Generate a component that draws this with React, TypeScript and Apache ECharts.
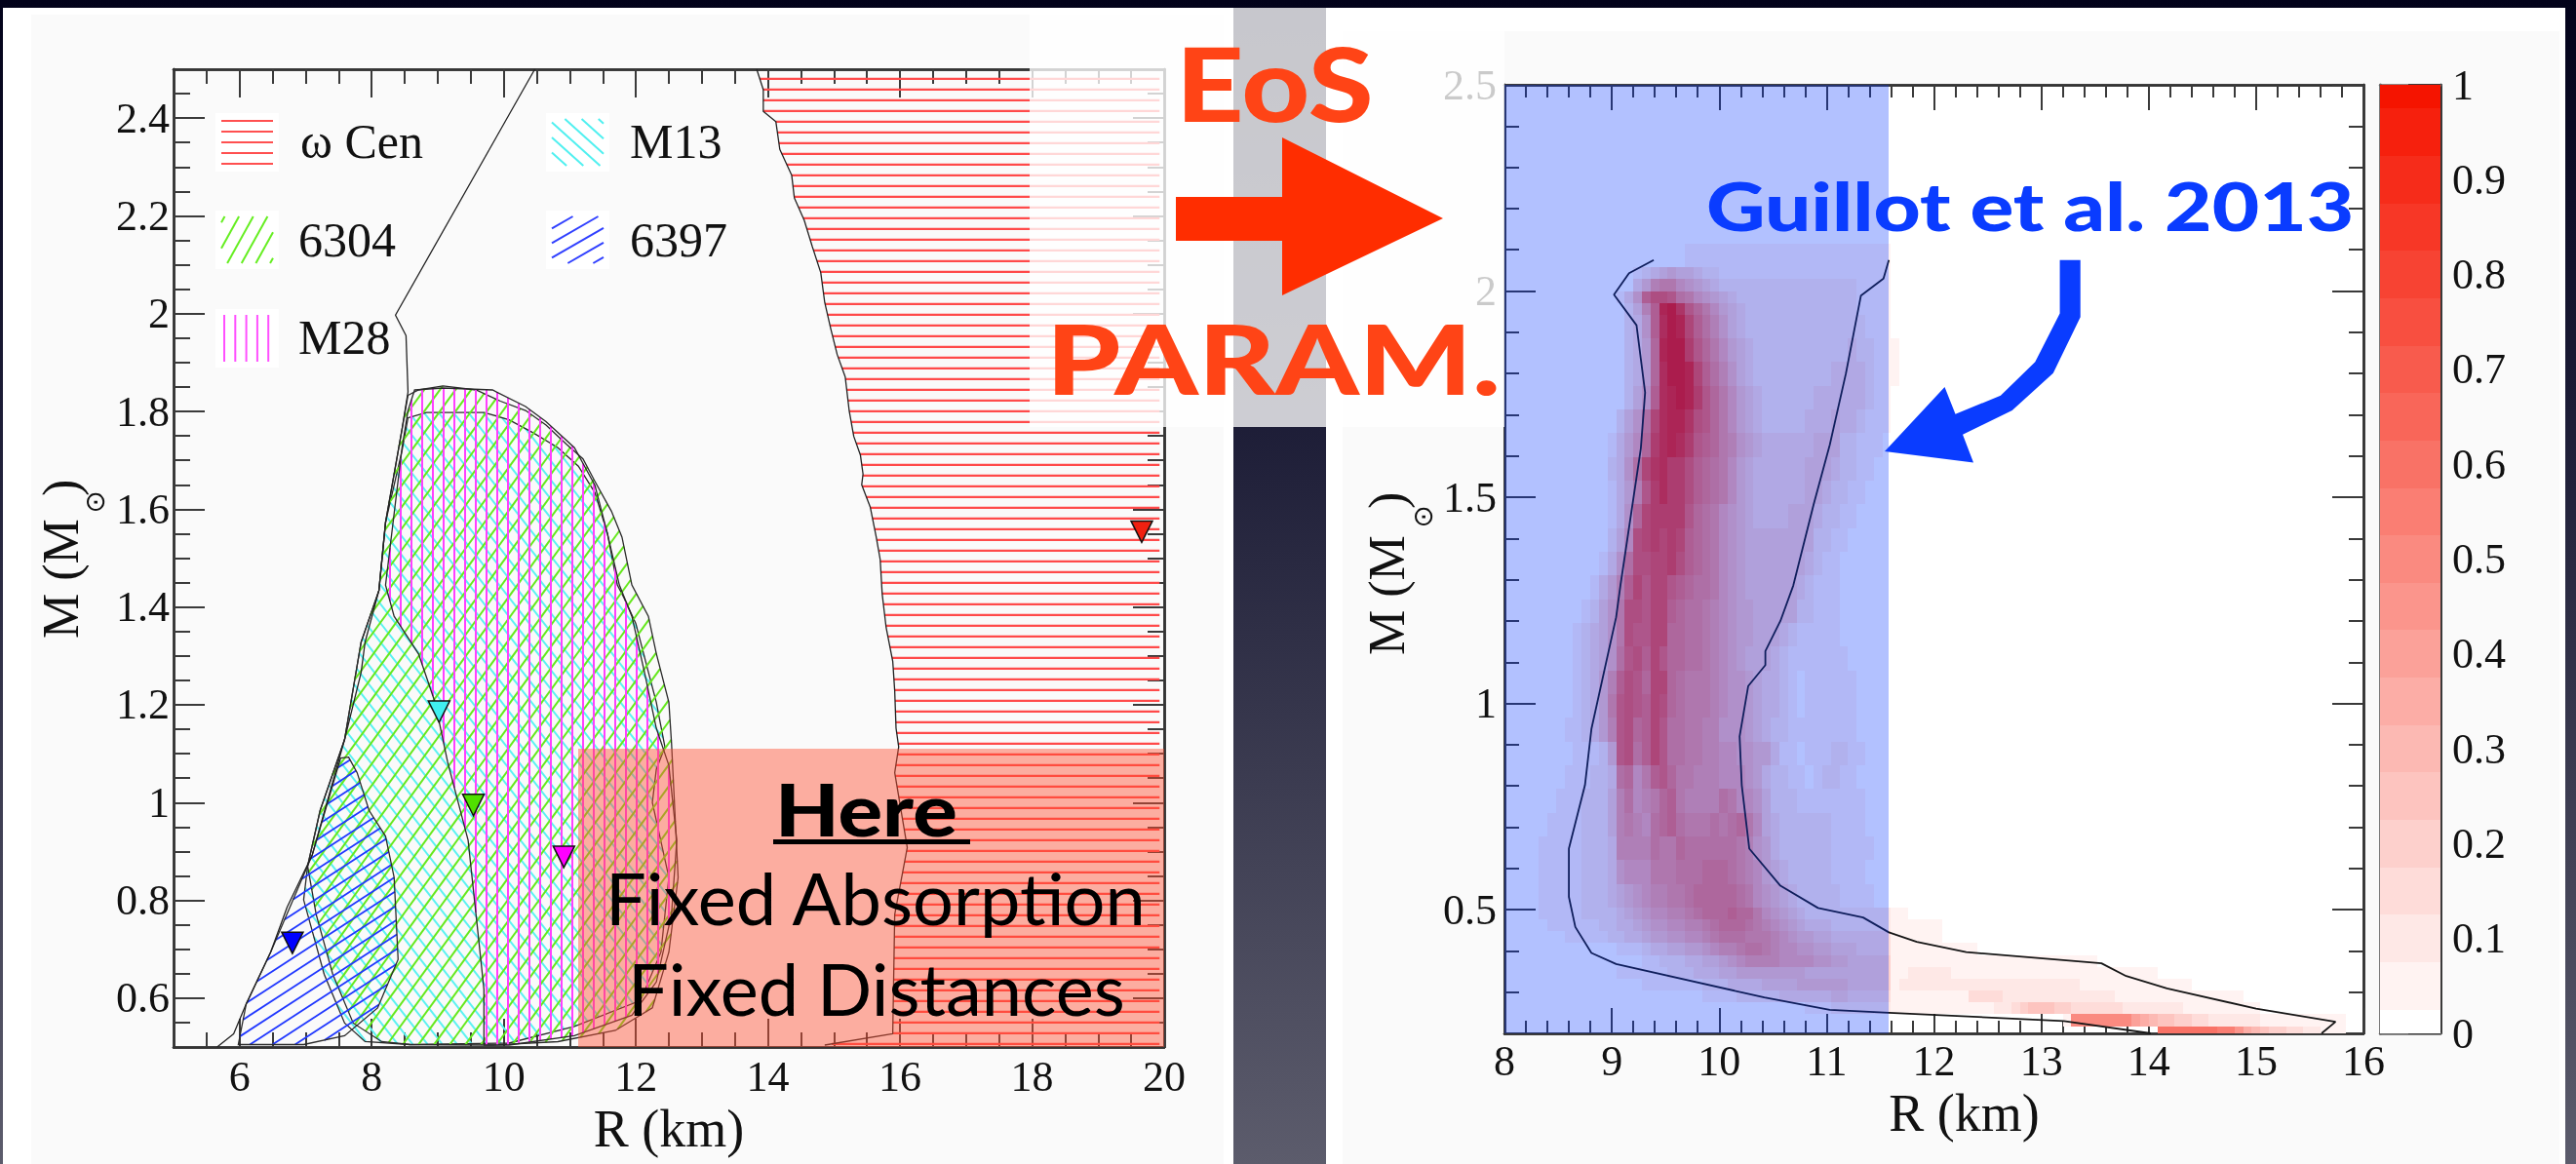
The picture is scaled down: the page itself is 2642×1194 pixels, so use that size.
import React, { useEffect, useRef } from "react";
import * as echarts from "echarts";

const SERIF = "'Liberation Serif'";
const SLIDE = "Lato";

// left plot ---------------------------------------------------------------
const leftXMajor = [6, 8, 10, 12, 14, 16, 18, 20];
const leftXMinor = [5.5, 6.5, 7, 7.5, 8.5, 9, 9.5, 10.5, 11, 11.5, 12.5, 13, 13.5, 14.5, 15, 15.5, 16.5, 17, 17.5, 18.5, 19, 19.5];
const leftYMajor = [0.6, 0.8, 1, 1.2, 1.4, 1.6, 1.8, 2, 2.2, 2.4];
const leftYMinor = [0.55, 0.65, 0.7, 0.75, 0.85, 0.9, 0.95, 1.05, 1.1, 1.15, 1.25, 1.3, 1.35, 1.45, 1.5, 1.55, 1.65, 1.7, 1.75, 1.85, 1.9, 1.95, 2.05, 2.1, 2.15, 2.25, 2.3, 2.35, 2.45];

const omegaEdge = [[13.83, 2.5], [13.93, 2.458], [13.93, 2.414], [14.12, 2.393], [14.18, 2.336], [14.36, 2.283], [14.4, 2.237], [14.55, 2.191], [14.67, 2.138], [14.8, 2.084], [14.86, 2.023], [14.95, 1.97], [15.05, 1.916], [15.17, 1.871], [15.23, 1.802], [15.3, 1.749], [15.4, 1.711], [15.44, 1.672], [15.42, 1.65], [15.55, 1.604], [15.64, 1.543], [15.7, 1.497], [15.73, 1.427], [15.79, 1.358], [15.89, 1.289], [15.92, 1.228], [15.94, 1.152], [15.98, 1.114], [15.92, 1.061], [16.11, 0.908], [15.92, 0.771], [15.89, 0.527], [14.86, 0.504]];
const omegaCorners = [[19.93, 0.504], [19.93, 2.5]];
const region6304 = [[8.55, 1.833], [8.71, 1.844], [9.08, 1.852], [9.58, 1.844], [9.95, 1.821], [10.33, 1.802], [10.64, 1.772], [10.95, 1.733], [11.2, 1.703], [11.38, 1.657], [11.63, 1.596], [11.79, 1.543], [11.94, 1.445], [12.19, 1.381], [12.31, 1.305], [12.5, 1.205], [12.54, 1.122], [12.59, 0.984], [12.64, 0.847], [12.5, 0.694], [12.25, 0.58], [11.69, 0.534], [10.82, 0.511], [9.83, 0.504], [8.58, 0.505], [8.15, 0.511], [7.72, 0.549], [7.41, 0.649], [7.16, 0.771], [7.03, 0.87], [7.22, 0.984], [7.59, 1.129], [7.84, 1.328], [8.11, 1.434], [8.21, 1.573], [8.46, 1.764]];
const regionM13 = [[8.55, 1.787], [8.83, 1.798], [9.7, 1.798], [10.08, 1.783], [10.45, 1.756], [10.82, 1.726], [11.13, 1.688], [11.38, 1.634], [11.57, 1.55], [11.72, 1.445], [11.82, 1.419], [12, 1.366], [12.19, 1.267], [12.31, 1.205], [12.44, 1.114], [12.31, 1.068], [12.25, 1], [12.5, 0.847], [12.38, 0.694], [12.07, 0.595], [11.07, 0.542], [10.08, 0.508], [8.58, 0.505], [7.9, 0.511], [7.59, 0.549], [7.28, 0.649], [6.97, 0.801], [7.03, 0.87], [7.22, 0.984], [7.59, 1.129], [7.84, 1.328], [8.11, 1.434], [8.21, 1.573], [8.46, 1.72]];
const regionM28 = [[8.65, 1.844], [9.08, 1.848], [9.83, 1.844], [10.33, 1.81], [10.64, 1.779], [11.07, 1.726], [11.38, 1.649], [11.57, 1.55], [11.75, 1.445], [11.94, 1.381], [12.13, 1.267], [12.31, 1.152], [12.5, 1.076], [12.62, 0.923], [12.54, 0.771], [12.31, 0.633], [11.94, 0.565], [11.07, 0.523], [10.08, 0.504], [9.7, 0.504], [9.7, 0.618], [9.58, 0.771], [9.46, 0.923], [9.15, 1.083], [8.96, 1.205], [8.71, 1.304], [8.34, 1.381], [8.21, 1.445], [8.46, 1.726], [8.55, 1.802]];
const region6397 = [[7.65, 1.093], [7.78, 1.061], [7.96, 0.984], [8.21, 0.931], [8.34, 0.847], [8.4, 0.679], [8.09, 0.58], [7.59, 0.523], [6.97, 0.505], [5.98, 0.505], [6.1, 0.588], [6.47, 0.694], [7.1, 0.893], [7.53, 1.091]];
const outerContour = [[10.47, 2.5], [8.36, 1.997], [8.52, 1.955], [8.55, 1.84], [8.46, 1.764], [8.21, 1.573], [8.11, 1.434], [7.9, 1.328], [7.84, 1.266], [7.59, 1.129], [7.1, 0.893], [6.72, 0.786], [6.47, 0.694], [6.1, 0.588], [5.91, 0.527], [5.66, 0.5]];
const triangleNames = ["ω Cen", "M13", "6304", "M28", "6397"];
const trianglePoints = [[19.66, 1.554], [9.02, 1.186], [9.54, 0.995], [10.91, 0.889], [6.8, 0.713]];
const triangleColors = ["#f02010", "#40f0f0", "#50e000", "#ff00ff", "#0000ff"];

// right plot --------------------------------------------------------------
const rightXMajor = [8, 9, 10, 11, 12, 13, 14, 15, 16];
const rightXMinor = [8.2, 8.4, 8.6, 8.8, 9.2, 9.4, 9.6, 9.8, 10.2, 10.4, 10.6, 10.8, 11.2, 11.4, 11.6, 11.8, 12.2, 12.4, 12.6, 12.8, 13.2, 13.4, 13.6, 13.8, 14.2, 14.4, 14.6, 14.8, 15.2, 15.4, 15.6, 15.8];
const rightYMajor = [0.5, 1, 1.5, 2, 2.5];
const rightYMinor = [0.3, 0.4, 0.6, 0.7, 0.8, 0.9, 1.1, 1.2, 1.3, 1.4, 1.6, 1.7, 1.8, 1.9, 2.1, 2.2, 2.3, 2.4];
const colorMajor = [0, 0.1, 0.2, 0.3, 0.4, 0.5, 0.6, 0.7, 0.8, 0.9, 1];
const colorMinor = [0.02, 0.04, 0.06, 0.08, 0.12, 0.14, 0.16, 0.18, 0.22, 0.24, 0.26, 0.28, 0.32, 0.34, 0.36, 0.38, 0.42, 0.44, 0.46, 0.48, 0.52, 0.54, 0.56, 0.58, 0.62, 0.64, 0.66, 0.68, 0.72, 0.74, 0.76, 0.78, 0.82, 0.84, 0.86, 0.88, 0.92, 0.94, 0.96, 0.98];
const contourLower = [[9.39, 2.075], [9.16, 2.043], [9.02, 1.991], [9.23, 1.917], [9.31, 1.754], [9.27, 1.618], [9.08, 1.286], [9.04, 1.209], [8.81, 0.938], [8.75, 0.802], [8.6, 0.648], [8.6, 0.531], [8.66, 0.458], [8.81, 0.395], [9.04, 0.368], [10.42, 0.287], [11.03, 0.257], [11.58, 0.25], [13.21, 0.23], [14.02, 0.2]];
const contourUpper = [[15.61, 0.2], [15.74, 0.228], [15, 0.26], [14.17, 0.309], [13.79, 0.339], [13.56, 0.37], [12.3, 0.397], [11.84, 0.422], [11.58, 0.445], [11.34, 0.481], [10.92, 0.504], [10.57, 0.558], [10.28, 0.648], [10.21, 0.802], [10.19, 0.92], [10.27, 1.042], [10.43, 1.093], [10.43, 1.127], [10.57, 1.2], [10.69, 1.286], [10.88, 1.483], [11.03, 1.627], [11.18, 1.8], [11.26, 1.908], [11.32, 1.989], [11.53, 2.03], [11.58, 2.075]];

// posterior map, one character per 0.08 km from R = 8; 0..k = level/20
const heatRowTops = [2.115, 2.0575, 2.029, 2.0, 1.971, 1.9425, 1.885, 1.8275, 1.77, 1.7125, 1.655, 1.5975, 1.54, 1.4825, 1.425, 1.3675, 1.31, 1.2525, 1.195, 1.1375, 1.08, 1.0225, 0.965, 0.9075, 0.85, 0.7925, 0.735, 0.6775, 0.62, 0.5625, 0.505, 0.47625, 0.4475, 0.41875, 0.39, 0.36125, 0.3325, 0.30375, 0.275, 0.24625, 0.2175, 0.2];
const heatRows = [
  "0000000000 0000000000 0111111111 1111111111 1111100000",
  "0000000000 0000012345 4432211111 1111111111 1111100000",
  "0000000000 0000035899 7654322222 2222222222 2111100000",
  "0000000000 000136ceed a976543222 2222222222 2111100000",
  "0000000000 0000248cjk hdb9754322 2222222222 2111100000",
  "0000000000 0000236cik jfca864322 2222222222 2211100000",
  "0000000000 0000235bjk kgdb975432 2222222222 3221110000",
  "0000000000 0000235bik kjfca86432 2222222233 3321110000",
  "0000000000 0000246cij kjgdb97543 2222223333 3321100000",
  "0000000000 000246afij jhedb97543 2222233343 3211100000",
  "0000000000 00135 7bgij igdcb98654 3333334442 2111000000",
  "0000000000 00236afhig gecba97543 3333344432 2110000000",
  "0000000000 001358dgig gecba97543 3333344322 1100000000",
  "0000000000 00136bfggg gdba976543 3334443221 1000000000",
  "0000000000 00247efgfg fcba976544 4444442211 0000000000",
  "0000000000 0136aeeffg ecba976544 4444432110 0000000000",
  "0000000000 1358cfdffd cbaa976544 4444321110 0000000000",
  "0000000001 2469eedffc baa9876554 4444221110 0000000000",
  "0000000012 3469eddffb baa9876554 4432111110 0000000000",
  "0000000012 346adecfdb baa9876544 4321111111 0000000000",
  "0000000012 358cedbffb a999876654 3321011111 1000000000",
  "0000000012 359dedcfeb a999876654 3321011111 1000000000",
  "0000000112 358debcfda a998866654 3221111111 1000000000",
  "0000000011 125deacfda a998877665 5311011122 1100000000",
  "0000000111 223ab79cdb 9988877765 3221101221 1000000000",
  "0000001112 2248a789bc 98888a9776 4222111111 1100000000",
  "0000011112 2248987abc a999a9ab97 4322222211 1100000000",
  "0000111112 2238888a99 baaaaaa986 5322222211 1110000000",
  "0000111112 2236777999 aaabbba987 5432222211 1100000000",
  "0000111112 2234567889 9abbbbba97 6543222221 1110000000",
  "0000111112 2223456778 89abbbcbb9 7654322222 2222211000",
  "0000011111 1223345667 7889abbba9 8765433322 2222211111 1",
  "0000000111 1122334556 67789aaa99 9876554433 3333311111 1",
  "0000000000 0001112334 45567889aa 9877665544 4333311111 11111",
  "0000000000 0000001122 2334456788 8877776655 4444411111 1111111111 111111111",
  "0000000000 0001111112 2233344555 5555544444 4444411222 2211111111 1111111111 111111",
  "0000000000 0000001111 1112223333 4444555555 4444412222 2222222222 2222222111 1111111111",
  "0000000000 0000000000 0001111222 2233333344 3333311111 1111333322 2222222222 2111111111 111111",
  "0000000000 0000000000 0000000000 0000011122 2222211111 1111111223 4555443333 3322222221 1111111100",
  "0000000000 0000000000 0000000000 0000000000 0000000000 0000000000 000001aaaa aaa8765544 3322222211 1111111100",
  "0000000000 0000000000 0000000000 0000000000 0000000000 0000000000 0000000000 000000cccc cccbb97654 4332211100",
];
const heatCellWidth = 0.08;
const colorBands = [0, 0.025, 0.075, 0.125, 0.175, 0.225, 0.275, 0.325, 0.375, 0.425, 0.475, 0.525, 0.575, 0.625, 0.675, 0.725, 0.775, 0.825, 0.875, 0.925, 0.975, 1];

const levelColor = (v: number) =>
  `rgb(${Math.round(255 - 10 * v)},${Math.round(255 - 235 * v)},${Math.round(255 - 255 * v)})`;

const heatCells: number[][] = [];
heatRows.forEach((row, r) => {
  const chars = row.replace(/ /g, "");
  for (let i = 0; i < chars.length; i++) {
    const level = parseInt(chars[i], 21);
    if (level > 0) {
      heatCells.push([8 + i * heatCellWidth, heatRowTops[r + 1], 8 + (i + 1) * heatCellWidth, heatRowTops[r], level / 20]);
    }
  }
});
const bandCells = colorBands.slice(0, -1).map((b, i) => [b, colorBands[i + 1], i / 20]);

type P = number[];
function hatch(pts: P[], angle: number, spacing: number, phase: number) {
  const a = (angle * Math.PI) / 180;
  const d = [Math.cos(a), -Math.sin(a)];
  const n = [-d[1], d[0]];
  const dot = (p: P, q: P) => p[0] * q[0] + p[1] * q[1];
  const ts = pts.map((p) => dot(p, n));
  const lo = Math.min(...ts);
  const hi = Math.max(...ts);
  const out: number[][] = [];
  for (let t = Math.ceil((lo - phase) / spacing) * spacing + phase + 0.001; t < hi; t += spacing) {
    const xs: P[] = [];
    pts.forEach((p, i) => {
      const q = pts[(i + 1) % pts.length];
      const t1 = ts[i];
      const t2 = ts[(i + 1) % pts.length];
      if ((t1 - t) * (t2 - t) < 0) {
        const u = (t - t1) / (t2 - t1);
        xs.push([p[0] + (q[0] - p[0]) * u, p[1] + (q[1] - p[1]) * u]);
      }
    });
    xs.sort((A, B) => dot(A, d) - dot(B, d));
    for (let i = 0; i + 1 < xs.length; i += 2) out.push([xs[i][0], xs[i][1], xs[i + 1][0], xs[i + 1][1]]);
  }
  return out;
}
const lineEls = (segs: number[][], color: string, width: number) =>
  segs.map((s) => ({
    type: "line",
    shape: { x1: s[0], y1: s[1], x2: s[2], y2: s[3] },
    style: { stroke: color, lineWidth: width },
  }));

function hatchSeries(name: string, poly: number[][], color: string, angle: number, spacing: number, phase: number, outline: boolean, width = 1.8) {
  return {
    type: "custom",
    name,
    silent: true,
    xAxisIndex: 0,
    yAxisIndex: 0,
    data: poly,
    encode: { x: 0, y: 1 },
    renderItem: (params: any, api: any) => {
      if (params.dataIndex !== 0) return null;
      const px = poly.map((p) => api.coord(p));
      const children: any[] = lineEls(hatch(px, angle, spacing, phase), color, width);
      if (outline) children.push({ type: "polygon", shape: { points: px }, style: { fill: "none", stroke: "#2a2a2a", lineWidth: 1.3 } });
      return { type: "group", children };
    },
  };
}

const axisBase = (grid: number, pos: string, min: number, max: number) => ({
  type: "value",
  gridIndex: grid,
  position: pos,
  min,
  max,
  splitLine: { show: false },
  axisLine: { show: true, onZero: false, lineStyle: { color: "#333", width: 2.5 } },
  axisLabel: { show: false },
  axisTick: { show: false },
});
const tickAxis = (grid: number, pos: string, min: number, max: number, ticks: number[], len: number) => ({
  ...axisBase(grid, pos, min, max),
  axisTick: { show: true, inside: true, length: len, customValues: ticks, lineStyle: { color: "#3a3a3a", width: 2 } },
});
const labelStyle = { fontFamily: SERIF, fontSize: 44, color: "#111" };

const swatches = [
  { name: "ω Cen", x: 221, y: 116, color: "#ff5050", angle: 0, spacing: 11, phase: 3, tx: 308, ty: 162 },
  { name: "6304", x: 221, y: 216, color: "#66ee22", angle: 61, spacing: 12.8, phase: 2, tx: 306, ty: 263 },
  { name: "M28", x: 221, y: 317, color: "#ff50ff", angle: 90, spacing: 11.3, phase: 4, tx: 306, ty: 363 },
  { name: "M13", x: 560, y: 116, color: "#50f0f0", angle: -42, spacing: 11.5, phase: 2, tx: 646, ty: 162 },
  { name: "6397", x: 560, y: 216, color: "#3040ff", angle: 30, spacing: 13, phase: 5, tx: 646, ty: 263 },
];

const bluePoints = [[2112.6, 266.7], [2133.7, 266.7], [2133.7, 325.3], [2105.8, 382.7], [2063.7, 421], [2013, 445.8], [2024, 474.6], [1933, 463], [1994.5, 396.9], [2005.5, 424.8], [2051.9, 405.7], [2087.3, 371.2], [2112.6, 321.5]];
const redPoints = [[1206, 202], [1315, 202], [1315, 141], [1480, 224], [1315, 303], [1315, 247], [1206, 247]];

// y is the text's alphabetic baseline; placed through its vertical middle
function text(t: string, x: number, y: number, size: number, family: string, fill: string, z: number, weight = 400, scaleX = 1) {
  return {
    type: "text",
    x,
    y: y - 0.34 * size,
    scaleX,
    z,
    silent: true,
    style: { text: t, font: `${weight} ${size}px ${family}`, fill, verticalAlign: "middle", align: "left" },
  };
}
function upText(t: string, x: number, y: number, size: number, family: string, z: number) {
  return {
    type: "text",
    x: x - 0.34 * size,
    y,
    rotation: Math.PI / 2,
    z,
    silent: true,
    style: { text: t, font: `400 ${size}px ${family}`, fill: "#111", verticalAlign: "middle", align: "left" },
  };
}
const rect = (x: number, y: number, w: number, h: number, fill: any, z: number) => ({ type: "rect", z, silent: true, shape: { x, y, width: w, height: h }, style: { fill } });

function buildOption() {
  const xAxis: any[] = [
    { ...tickAxis(0, "bottom", 5, 20, leftXMajor, 29), name: "R (km)", nameLocation: "middle", nameGap: 50, nameTextStyle: { fontFamily: SERIF, fontSize: 54, color: "#111" }, axisLabel: { show: true, margin: 8, customValues: leftXMajor, ...labelStyle } },
    { ...tickAxis(1, "bottom", 8, 16, rightXMajor, 26), name: "R (km)", nameLocation: "middle", nameGap: 50, nameTextStyle: { fontFamily: SERIF, fontSize: 54, color: "#111", padding: [0, 0, 0, 62] }, axisLabel: { show: true, margin: 6, customValues: rightXMajor, ...labelStyle } },
    { ...axisBase(2, "bottom", 0, 1), axisLine: { show: true, onZero: false, lineStyle: { color: "#666", width: 2.5 } } },
    tickAxis(0, "bottom", 5, 20, leftXMinor, 15),
    tickAxis(0, "top", 5, 20, leftXMajor, 29),
    tickAxis(0, "top", 5, 20, leftXMinor, 15),
    tickAxis(1, "bottom", 8, 16, rightXMinor, 13),
    tickAxis(1, "top", 8, 16, rightXMajor, 26),
    tickAxis(1, "top", 8, 16, rightXMinor, 13),
    { ...axisBase(2, "top", 0, 1), axisLine: { show: true, onZero: false, lineStyle: { color: "#666", width: 2.5 } } },
  ];
  const yAxis: any[] = [
    { ...tickAxis(0, "left", 0.5, 2.5, leftYMajor, 32), axisLabel: { show: true, margin: 4, customValues: leftYMajor, ...labelStyle } },
    { ...tickAxis(1, "left", 0.2, 2.5, rightYMajor, 32), axisLabel: { show: true, margin: 8, customValues: rightYMajor, ...labelStyle } },
    { ...tickAxis(2, "right", 0, 1, colorMajor, 33), axisLabel: { show: true, margin: 12, customValues: colorMajor, ...labelStyle } },
    tickAxis(0, "left", 0.5, 2.5, leftYMinor, 17),
    tickAxis(0, "right", 0.5, 2.5, leftYMajor, 32),
    tickAxis(0, "right", 0.5, 2.5, leftYMinor, 17),
    tickAxis(1, "left", 0.2, 2.5, rightYMinor, 15),
    tickAxis(1, "right", 0.2, 2.5, rightYMajor, 32),
    tickAxis(1, "right", 0.2, 2.5, rightYMinor, 15),
    tickAxis(2, "right", 0, 1, colorMinor, 18),
    { ...axisBase(2, "left", 0, 1), axisLine: { show: true, onZero: false, lineStyle: { color: "#777", width: 3 } } },
  ];

  const series: any[] = [
    hatchSeries("ω Cen", [...omegaEdge, ...omegaCorners], "#ff4a4a", 0, 11, 3.8, false, 2.2),
    hatchSeries("M13", regionM13, "#5cf2f2", -52, 12, 2, true, 2),
    hatchSeries("6304", region6304, "#66e81e", 54, 13, 2, true, 2),
    hatchSeries("M28", regionM28, "#ff40ff", 90, 11, 4, true, 2),
    hatchSeries("6397", region6397, "#2038ff", 33, 12.6, 5, true, 1.8),
    { type: "line", name: "ω Cen limit", silent: true, xAxisIndex: 0, yAxisIndex: 0, data: omegaEdge, showSymbol: false, lineStyle: { color: "#222", width: 1.3 } },
    { type: "line", name: "outer limit", silent: true, xAxisIndex: 0, yAxisIndex: 0, data: outerContour, showSymbol: false, lineStyle: { color: "#222", width: 1.3 } },
    {
      type: "scatter",
      name: "neutron stars",
      silent: true,
      xAxisIndex: 0,
      yAxisIndex: 0,
      symbol: "triangle",
      symbolRotate: 180,
      symbolSize: [22, 22],
      z: 5,
      data: trianglePoints.map((p, i) => ({ name: triangleNames[i], value: p, itemStyle: { color: triangleColors[i], opacity: 1, borderColor: "#111", borderWidth: 1.5 } })),
    },
    {
      type: "custom",
      name: "posterior",
      silent: true,
      xAxisIndex: 1,
      yAxisIndex: 1,
      data: heatCells,
      encode: { x: [0, 2], y: [1, 3] },
      renderItem: (_: any, api: any) => {
        const a = api.coord([api.value(0), api.value(3)]);
        const b = api.coord([api.value(2), api.value(1)]);
        return { type: "rect", shape: { x: Math.round(a[0]), y: Math.round(a[1]), width: Math.round(b[0]) - Math.round(a[0]), height: Math.round(b[1]) - Math.round(a[1]) }, style: { fill: levelColor(api.value(4)) } };
      },
    },
    { type: "line", name: "contour lower", silent: true, xAxisIndex: 1, yAxisIndex: 1, z: 4, data: contourLower, showSymbol: false, lineStyle: { color: "#161616", width: 1.8 } },
    { type: "line", name: "contour upper", silent: true, xAxisIndex: 1, yAxisIndex: 1, z: 4, data: contourUpper, showSymbol: false, lineStyle: { color: "#161616", width: 1.8 } },
    {
      type: "custom",
      name: "colour scale",
      silent: true,
      xAxisIndex: 2,
      yAxisIndex: 2,
      data: bandCells,
      encode: { y: [0, 1] },
      renderItem: (_: any, api: any) => {
        const a = api.coord([0, api.value(1)]);
        const b = api.coord([1, api.value(0)]);
        return { type: "rect", shape: { x: a[0], y: Math.round(a[1]), width: b[0] - a[0], height: Math.round(b[1]) - Math.round(a[1]) }, style: { fill: levelColor(api.value(2)) } };
      },
    },
  ];

  const graphic: any[] = [
    rect(0, 0, 2642, 1194, { type: "linear", x: 0, y: 0, x2: 0, y2: 1, colorStops: [{ offset: 0, color: "#02021a" }, { offset: 0.35, color: "#1c1c36" }, { offset: 1, color: "#5c5c6c" }] }, -20),
    rect(3, 8, 1262, 1186, "#ffffff", -15),
    rect(32, 15, 1223, 1179, "#fafafa", -14),
    rect(1360, 8, 1271, 1186, "#ffffff", -15),
    rect(1377, 32, 1248, 1162, "#fafafa", -14),
  ];
  swatches.forEach((s) => {
    const w = 65;
    const h = 60;
    const pad = 6;
    const box = [[s.x + pad, s.y + pad], [s.x + w - pad, s.y + pad], [s.x + w - pad, s.y + h - pad], [s.x + pad, s.y + h - pad]];
    graphic.push(rect(s.x, s.y, w, h, "#ffffff", 3));
    lineEls(hatch(box, s.angle, s.spacing, s.phase), s.color, 2).forEach((l) => graphic.push({ ...l, z: 4, silent: true }));
    graphic.push(text(s.name, s.tx, s.ty, 50, SERIF, "#111", 4));
  });
  // rotated axis titles with the solar symbol as a subscript
  const massTitle = (baseX: number, startY: number, sunX: number, sunY: number, closeY: number) => [
    upText("M (M", baseX, startY, 52, SERIF, 4),
    { type: "text", x: sunX, y: sunY, rotation: Math.PI / 2, z: 4, silent: true, style: { text: "⊙", font: `400 28px 'DejaVu Sans'`, fill: "#111", verticalAlign: "middle", align: "center" } },
    upText(")", baseX, closeY, 52, SERIF, 4),
  ];
  graphic.push(...massTitle(80, 655, 97, 515, 509), ...massTitle(1440, 672, 1459, 530, 522));
  // slide overlays
  graphic.push(rect(593, 768, 601, 306, "rgba(255,80,50,0.45)", 90));
  graphic.push(text("Here", 795, 854, 74, SLIDE, "#000", 101, 900, 1.15));
  graphic.push(rect(793, 861, 202, 5, "#000", 101));
  graphic.push(text("Fixed Absorption", 621, 946, 74, SLIDE, "#000", 101));
  graphic.push(text("Fixed Distances", 644, 1039, 74, SLIDE, "#000", 101));
  graphic.push(rect(1543, 87, 394, 973, "rgba(0,50,255,0.3)", 90));
  graphic.push(rect(1056, 8, 487, 430, "rgba(255,255,255,0.78)", 95));
  graphic.push(text("EoS", 1206, 120, 104, SLIDE, "#ff4416", 101, 900, 1.167));
  graphic.push(text("PARAM.", 1073, 400, 100, SLIDE, "#ff4416", 101, 900, 1.22));
  graphic.push({ type: "polygon", z: 100, silent: true, shape: { points: redPoints }, style: { fill: "#ff2d00" } });
  graphic.push(text("Guillot et al. 2013", 1750, 234, 68, SLIDE, "#0a3cff", 101, 900, 1.23));
  graphic.push({ type: "polygon", z: 100, silent: true, shape: { points: bluePoints }, style: { fill: "#0a3cff" } });

  return {
    animation: false,
    backgroundColor: "transparent",
    grid: [
      { left: 178, top: 71, width: 1016, height: 1003, show: false },
      { left: 1543, top: 87, width: 881, height: 973, show: true, backgroundColor: "#fff", borderWidth: 0 },
      { left: 2441, top: 87, width: 62, height: 973, show: true, backgroundColor: "#fff", borderWidth: 0 },
    ],
    xAxis,
    yAxis,
    series,
    graphic: { elements: graphic },
  };
}

export default function App() {
  const ref = useRef<HTMLDivElement>(null);
  useEffect(() => {
    document.body.style.margin = "0";
    document.body.style.overflow = "hidden";
    const chart = echarts.init(ref.current!, undefined, { renderer: "svg", width: 2642, height: 1194 });
    chart.setOption(buildOption() as any);
    return () => chart.dispose();
  }, []);
  return <div ref={ref} style={{ position: "fixed", left: 0, top: 0, width: 2642, height: 1194 }} />;
}
